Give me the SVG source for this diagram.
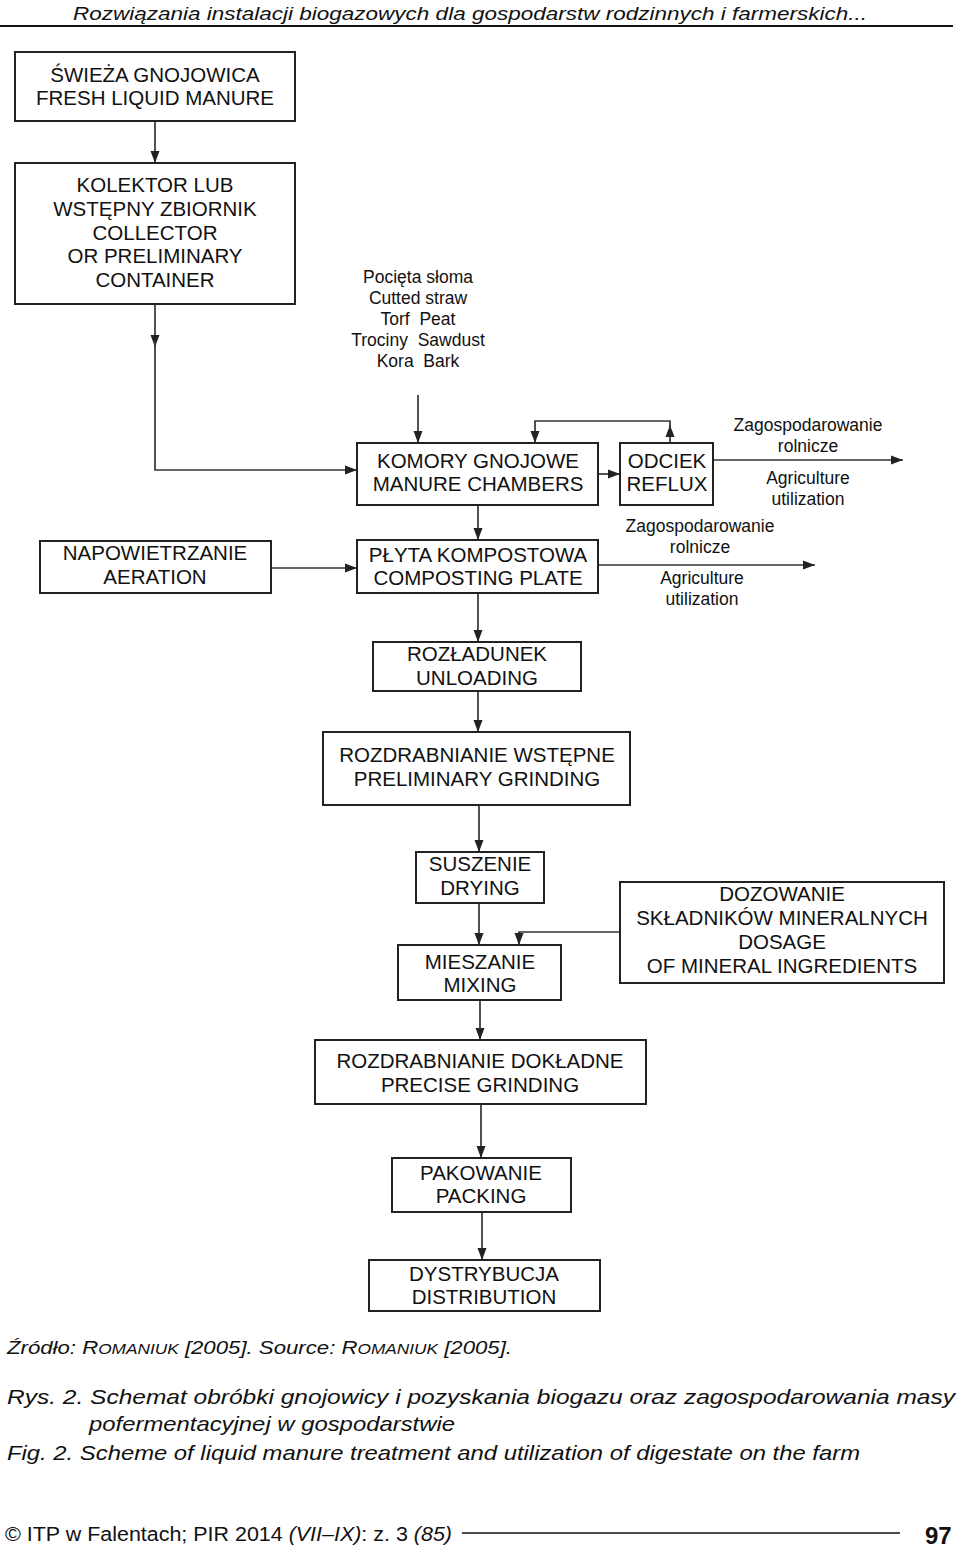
<svg xmlns="http://www.w3.org/2000/svg" width="960" height="1549" viewBox="0 0 960 1549">
<style>
.box{fill:#fff;stroke:#222;stroke-width:2}
.t{font-family:"Liberation Sans",Arial,sans-serif;font-size:20.5px;fill:#111;text-anchor:middle}
.s{font-family:"Liberation Sans",Arial,sans-serif;font-size:17.5px;fill:#111;text-anchor:middle;white-space:pre}
.c{fill:none;stroke:#333;stroke-width:1.7}
.i{font-family:"Liberation Sans",Arial,sans-serif;font-style:italic;fill:#111}
</style>
<defs>
<marker id="a" viewBox="0 0 12 10" refX="12" refY="5" markerWidth="12" markerHeight="10" markerUnits="userSpaceOnUse" orient="auto">
<path d="M0,0.5 L12,5 L0,9.5 Z" fill="#222"/>
</marker>
</defs>
<rect width="960" height="1549" fill="#fff"/>

<g id="header">
<text class="i" x="470" y="20" font-size="19" text-anchor="middle" textLength="794" lengthAdjust="spacingAndGlyphs">Rozwiązania instalacji biogazowych dla gospodarstw rodzinnych i farmerskich...</text>
<line x1="0" y1="26" x2="953" y2="26" stroke="#111" stroke-width="2"/>
</g>

<g id="connectors">
<line class="c" x1="155" y1="121" x2="155" y2="163" marker-end="url(#a)"/>
<line class="c" x1="155" y1="304" x2="155" y2="347" marker-end="url(#a)"/>
<polyline class="c" points="155,340 155,470 357,470" marker-end="url(#a)"/>
<line class="c" x1="418" y1="395" x2="418" y2="443" marker-end="url(#a)"/>
<line class="c" x1="598" y1="474" x2="620" y2="474" marker-end="url(#a)"/>
<line class="c" x1="670" y1="443" x2="670" y2="425" marker-end="url(#a)"/>
<polyline class="c" points="670,430 670,421 535,421 535,443" marker-end="url(#a)"/>
<line class="c" x1="713" y1="460" x2="903" y2="460" marker-end="url(#a)"/>
<line class="c" x1="478" y1="505" x2="478" y2="540" marker-end="url(#a)"/>
<line class="c" x1="271" y1="568" x2="357" y2="568" marker-end="url(#a)"/>
<line class="c" x1="598" y1="565" x2="815" y2="565" marker-end="url(#a)"/>
<line class="c" x1="478" y1="593" x2="478" y2="642" marker-end="url(#a)"/>
<line class="c" x1="478" y1="691" x2="478" y2="732" marker-end="url(#a)"/>
<line class="c" x1="479" y1="805" x2="479" y2="852" marker-end="url(#a)"/>
<line class="c" x1="479" y1="903" x2="479" y2="945" marker-end="url(#a)"/>
<polyline class="c" points="620,932 519,932 519,945" marker-end="url(#a)"/>
<line class="c" x1="480" y1="1000" x2="480" y2="1040" marker-end="url(#a)"/>
<line class="c" x1="481" y1="1104" x2="481" y2="1158" marker-end="url(#a)"/>
<line class="c" x1="482" y1="1212" x2="482" y2="1260" marker-end="url(#a)"/>
</g>

<g id="fresh">
<rect class="box" x="15" y="52" width="280" height="69"/>
<text class="t" x="155" y="82">ŚWIEŻA GNOJOWICA</text>
<text class="t" x="155" y="105">FRESH LIQUID MANURE</text>
</g>

<g id="collector">
<rect class="box" x="15" y="163" width="280" height="141"/>
<text class="t" x="155" y="192">KOLEKTOR LUB</text>
<text class="t" x="155" y="216">WSTĘPNY ZBIORNIK</text>
<text class="t" x="155" y="240">COLLECTOR</text>
<text class="t" x="155" y="263">OR PRELIMINARY</text>
<text class="t" x="155" y="287">CONTAINER</text>
</g>

<g id="materials">
<text class="s" x="418" y="283">Pocięta słoma</text>
<text class="s" x="418" y="304">Cutted straw</text>
<text class="s" x="418" y="325">Torf  Peat</text>
<text class="s" x="418" y="346">Trociny  Sawdust</text>
<text class="s" x="418" y="367">Kora  Bark</text>
</g>

<g id="chambers">
<rect class="box" x="357" y="443" width="241" height="62"/>
<text class="t" x="478" y="468">KOMORY GNOJOWE</text>
<text class="t" x="478" y="491">MANURE CHAMBERS</text>
</g>

<g id="reflux">
<rect class="box" x="620" y="443" width="93" height="62"/>
<text class="t" x="667" y="468">ODCIEK</text>
<text class="t" x="667" y="491">REFLUX</text>
</g>

<g id="label-reflux">
<text class="s" x="808" y="431">Zagospodarowanie</text>
<text class="s" x="808" y="452">rolnicze</text>
<text class="s" x="808" y="484">Agriculture</text>
<text class="s" x="808" y="505">utilization</text>
</g>

<g id="aeration">
<rect class="box" x="40" y="541" width="231" height="52"/>
<text class="t" x="155" y="560">NAPOWIETRZANIE</text>
<text class="t" x="155" y="584">AERATION</text>
</g>

<g id="composting">
<rect class="box" x="357" y="540" width="241" height="53"/>
<text class="t" x="478" y="562">PŁYTA KOMPOSTOWA</text>
<text class="t" x="478" y="585">COMPOSTING PLATE</text>
</g>

<g id="label-compost">
<text class="s" x="700" y="532">Zagospodarowanie</text>
<text class="s" x="700" y="553">rolnicze</text>
<text class="s" x="702" y="584">Agriculture</text>
<text class="s" x="702" y="605">utilization</text>
</g>

<g id="unloading">
<rect class="box" x="373" y="642" width="208" height="49"/>
<text class="t" x="477" y="661">ROZŁADUNEK</text>
<text class="t" x="477" y="685">UNLOADING</text>
</g>

<g id="prelim-grinding">
<rect class="box" x="323" y="732" width="307" height="73"/>
<text class="t" x="477" y="762">ROZDRABNIANIE WSTĘPNE</text>
<text class="t" x="477" y="786">PRELIMINARY GRINDING</text>
</g>

<g id="drying">
<rect class="box" x="416" y="852" width="128" height="51"/>
<text class="t" x="480" y="871">SUSZENIE</text>
<text class="t" x="480" y="895">DRYING</text>
</g>

<g id="dosage">
<rect class="box" x="620" y="882" width="324" height="101"/>
<text class="t" x="782" y="901">DOZOWANIE</text>
<text class="t" x="782" y="925">SKŁADNIKÓW MINERALNYCH</text>
<text class="t" x="782" y="949">DOSAGE</text>
<text class="t" x="782" y="973">OF MINERAL INGREDIENTS</text>
</g>

<g id="mixing">
<rect class="box" x="398" y="945" width="163" height="55"/>
<text class="t" x="480" y="969">MIESZANIE</text>
<text class="t" x="480" y="992">MIXING</text>
</g>

<g id="precise-grinding">
<rect class="box" x="315" y="1040" width="331" height="64"/>
<text class="t" x="480" y="1068">ROZDRABNIANIE DOKŁADNE</text>
<text class="t" x="480" y="1092">PRECISE GRINDING</text>
</g>

<g id="packing">
<rect class="box" x="392" y="1158" width="179" height="54"/>
<text class="t" x="481" y="1180">PAKOWANIE</text>
<text class="t" x="481" y="1203">PACKING</text>
</g>

<g id="distribution">
<rect class="box" x="369" y="1260" width="231" height="51"/>
<text class="t" x="484" y="1281">DYSTRYBUCJA</text>
<text class="t" x="484" y="1304">DISTRIBUTION</text>
</g>

<g id="footer">
<text class="i" x="7" y="1354" font-size="18" textLength="505" lengthAdjust="spacingAndGlyphs">Źródło: R<tspan font-size="14">OMANIUK</tspan> [2005]. Source: R<tspan font-size="14">OMANIUK</tspan> [2005].</text>
<text class="i" x="7" y="1404" font-size="21" textLength="948" lengthAdjust="spacingAndGlyphs">Rys. 2. Schemat obróbki gnojowicy i pozyskania biogazu oraz zagospodarowania masy</text>
<text class="i" x="89" y="1431" font-size="21" textLength="366" lengthAdjust="spacingAndGlyphs">pofermentacyjnej w gospodarstwie</text>
<text class="i" x="7" y="1460" font-size="21" textLength="853" lengthAdjust="spacingAndGlyphs">Fig. 2. Scheme of liquid manure treatment and utilization of digestate on the farm</text>
<text x="5" y="1541" font-family="Liberation Sans,Arial,sans-serif" font-size="20" fill="#111" textLength="447" lengthAdjust="spacingAndGlyphs">© ITP w Falentach; PIR 2014 <tspan font-style="italic">(VII–IX)</tspan>: z. 3 <tspan font-style="italic">(85)</tspan></text>
<line x1="462" y1="1533" x2="900" y2="1533" stroke="#111" stroke-width="1.5"/>
<text x="925" y="1544" font-family="Liberation Sans,Arial,sans-serif" font-size="24" font-weight="bold" fill="#111">97</text>
</g>
</svg>
